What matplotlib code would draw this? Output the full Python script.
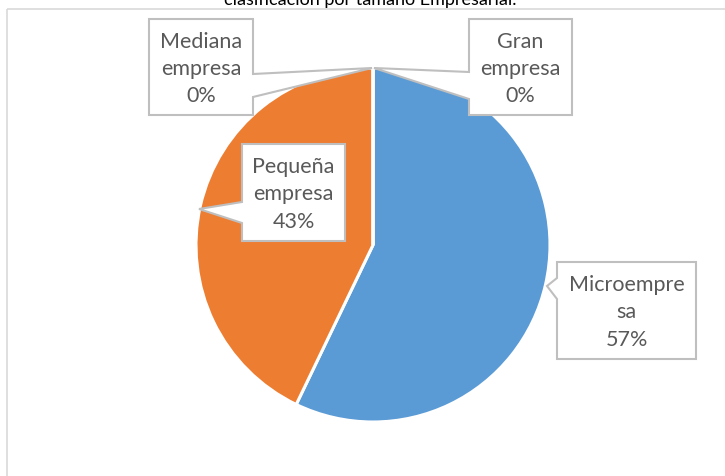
import matplotlib.pyplot as plt
from matplotlib.patches import Polygon, Rectangle

# data
categories = ['Microempresa', 'Pequeña empresa', 'Mediana empresa', 'Gran empresa']
label_lines = ['Microempre\nsa', 'Pequeña\nempresa', 'Mediana\nempresa', 'Gran\nempresa']
values = [4, 3, 0, 0]
colors = ['#5B9BD5', '#ED7D31', '#A5A5A5', '#FFC000']
title = 'clasificación por tamaño Empresarial.'

plt.rcParams['font.family'] = ['Lato', 'DejaVu Sans']

fig = plt.figure(figsize=(7.25, 4.77), dpi=100)
ax = fig.add_axes([0, 0, 1, 1])

# pie in pixel coordinates (y axis flipped so y grows downward like the image)
ax.pie(values, colors=colors, center=(373, 246), radius=177, startangle=-90,
       counterclock=True, wedgeprops=dict(edgecolor='white', linewidth=2.2))
ax.set_xlim(0, 725)
ax.set_ylim(477, 0)
ax.set_aspect('equal')
ax.axis('off')

# chart frame (partly cut off)
ax.add_patch(Rectangle((7, 10), 730, 480, fill=False, edgecolor='#D9D9D9', lw=1.2, zorder=0))

# title, cut at the top edge
ax.text(370, 4.5, title, ha='center', va='baseline', fontsize=13, color='black')

# callout boxes: box (x0, y0, x1, y1), pointer side, pointer base (b0, b1), apex
callouts = [
    ((557, 263, 696, 360), 'left', (279, 300), (547, 287)),
    ((242, 145, 345, 242), 'left', (203, 224), (199, 210)),
    ((149, 20, 253, 116), 'right', (75, 98), (372, 69)),
    ((469, 20, 572, 116), 'left', (73, 100), (374, 69)),
]

total = sum(values)
for i, (box, side, base, apex) in enumerate(callouts):
    x0, y0, x1, y1 = box
    b0, b1 = base
    if side == 'left':
        pts = [(x0, y0), (x1, y0), (x1, y1), (x0, y1), (x0, b1), apex, (x0, b0)]
    else:
        pts = [(x0, y0), (x1, y0), (x1, b0), apex, (x1, b1), (x1, y1), (x0, y1)]
    ax.add_patch(Polygon(pts, closed=True, facecolor='white', edgecolor='#BFBFBF',
                         lw=1.5, zorder=5))
    pct = round(100 * values[i] / total)
    ax.text((x0 + x1) / 2, (y0 + y1) / 2 + 1, f'{label_lines[i]}\n{pct}%',
            ha='center', va='center', fontsize=15.5, color='#595959',
            linespacing=1.45, zorder=6)

fig.savefig('out.png', dpi=100)
